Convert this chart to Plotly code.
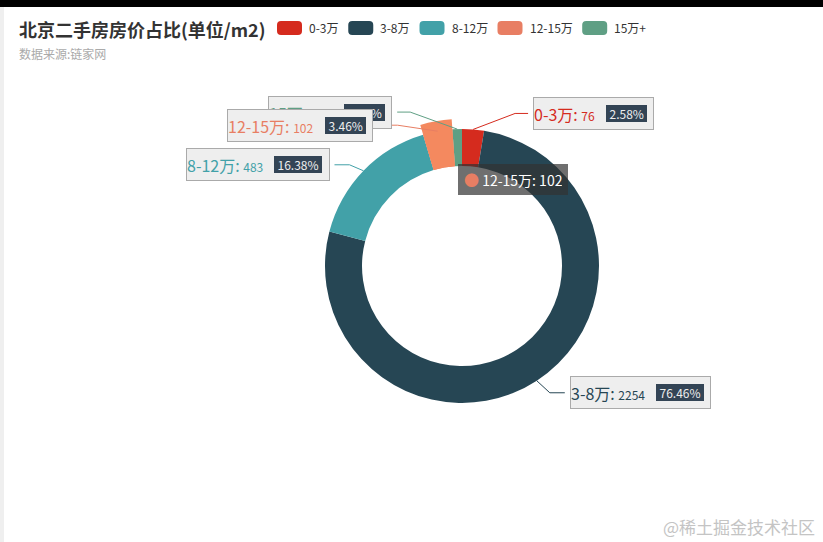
import math
import plotly.graph_objects as go

# ---------------- data ----------------
names = ['0-3万', '3-8万', '8-12万', '12-15万', '15万+']
values = [76, 2254, 483, 102, 33]
title_text = '北京二手房房价占比(单位/m2)'
subtitle_text = '数据来源:链家网'
hover_index = 3          # slice shown highlighted with a tooltip
watermark_text = '@稀土掘金技术社区'

# ---------------- styles / layout ----------------
colors = ['#d52b1e', '#264654', '#42a1a8', '#e87e63', '#5f9f84']
emph_color = '#f4895f'
W, H = 823, 542
CX, CY, R_OUT, R_IN, R_EMPH = 462, 266, 137, 100, 147
FONT = 'Noto Sans CJK SC, Microsoft YaHei, sans-serif'
# label line geometry: (elbow dx, elbow dy, second segment length)
label_offsets = [(42, -16, 13), (13, 12, 15), (-14, -6, 15), (-40, -6, 20), (-47, -17, 13)]


def px(x):
    return x / W


def py(y):
    return 1 - y / H


EM = {'-': 0.36, '.': 0.26, ':': 0.3, '%': 0.84, '+': 0.56, ' ': 0.28}


def tw(s, size):
    w = 0.0
    for ch in s:
        if ch.isdigit():
            w += 0.56
        elif ch in EM:
            w += EM[ch]
        elif ord(ch) > 0x2e80:
            w += 1.0
        else:
            w += 0.56
    return w * size


def rrect(x0, y0, x1, y1, r):
    return (f"M{px(x0 + r)},{py(y0)} L{px(x1 - r)},{py(y0)} Q{px(x1)},{py(y0)} {px(x1)},{py(y0 + r)} "
            f"L{px(x1)},{py(y1 - r)} Q{px(x1)},{py(y1)} {px(x1 - r)},{py(y1)} "
            f"L{px(x0 + r)},{py(y1)} Q{px(x0)},{py(y1)} {px(x0)},{py(y1 - r)} "
            f"L{px(x0)},{py(y0 + r)} Q{px(x0)},{py(y0)} {px(x0 + r)},{py(y0)} Z")


fig = go.Figure()

# main donut
fig.add_trace(go.Pie(
    labels=names, values=values, sort=False, direction='clockwise', rotation=0,
    hole=R_IN / R_OUT, marker=dict(colors=colors, line=dict(width=0)),
    textinfo='none', hoverinfo='skip', showlegend=False,
    domain=dict(x=[px(CX - R_OUT), px(CX + R_OUT)], y=[py(CY + R_OUT), py(CY - R_OUT)]),
))
# emphasised (hovered) slice, drawn with a larger outer radius
emph_colors = ['rgba(0,0,0,0)'] * len(values)
emph_colors[hover_index] = emph_color
fig.add_trace(go.Pie(
    labels=names, values=values, sort=False, direction='clockwise', rotation=0,
    hole=R_IN / R_EMPH, marker=dict(colors=emph_colors, line=dict(width=0)),
    textinfo='none', hoverinfo='skip', showlegend=False,
    domain=dict(x=[px(CX - R_EMPH), px(CX + R_EMPH)], y=[py(CY + R_EMPH), py(CY - R_EMPH)]),
))

shapes = []
annotations = []

# page frame (black top bar, grey left strip)
shapes.append(dict(type='rect', xref='paper', yref='paper', x0=0, x1=1, y0=py(7), y1=1,
                   fillcolor='#000000', line=dict(width=0), layer='below'))
shapes.append(dict(type='rect', xref='paper', yref='paper', x0=0, x1=px(4), y0=0, y1=py(7),
                   fillcolor='#efefef', line=dict(width=0), layer='below'))

# title & subtitle
annotations.append(dict(text=f'<b>{title_text}</b>', x=px(17), y=py(29), xref='paper', yref='paper',
                        xanchor='left', yanchor='middle', showarrow=False,
                        font=dict(size=18, color='#333333', family=FONT)))
annotations.append(dict(text=subtitle_text, x=px(17), y=py(53), xref='paper', yref='paper',
                        xanchor='left', yanchor='middle', showarrow=False,
                        font=dict(size=12, color='#aaaaaa', family=FONT)))

# legend
lx = 277
for name, col in zip(names, colors):
    shapes.append(dict(type='path', xref='paper', yref='paper', path=rrect(lx, 21, lx + 25, 35, 4),
                       fillcolor=col, line=dict(width=0)))
    annotations.append(dict(text=name, x=px(lx + 30), y=py(28), xref='paper', yref='paper',
                            xanchor='left', yanchor='middle', showarrow=False,
                            font=dict(size=12, color='#333333', family=FONT)))
    lx += 25 + 5 + tw(name, 12) + 11.5

# slice labels
total = sum(values)
cum = 0
label_items = []
for i, (name, v) in enumerate(zip(names, values)):
    theta = 2 * math.pi * (cum + v / 2) / total
    cum += v
    sx = CX + R_OUT * math.sin(theta)
    sy = CY - R_OUT * math.cos(theta)
    dx, dy, l2 = label_offsets[i]
    ex, ey = sx + dx, sy + dy
    right = math.sin(theta) > 0
    fx = ex + l2 if right else ex - l2
    shapes.append(dict(type='path', xref='paper', yref='paper',
                       path=f"M{px(sx)},{py(sy)} L{px(ex)},{py(ey)} L{px(fx)},{py(ey)}",
                       line=dict(color=colors[i], width=1)))
    pct = f"{v / total * 100:.2f}%"
    pct_w = tw(pct, 12) + 8
    box_w = tw(name + ':', 16) + 7 + tw(str(v), 12) + 8 + pct_w + 7
    bx0 = fx + 5 if right else fx - 5 - box_w
    label_items.append((i, name, v, pct, pct_w, box_w, bx0, ey))

# draw order: the highlighted slice label last so it sits on top
order = [it for it in label_items if it[0] != hover_index] + [it for it in label_items if it[0] == hover_index]
for i, name, v, pct, pct_w, box_w, bx0, cy_ in order:
    annotations.append(dict(
        text=f"<span style='font-size:16px'>{name}:</span> <span style='font-size:12px'>{v}</span>",
        x=px(bx0), y=py(cy_), xref='paper', yref='paper', xanchor='left', yanchor='middle',
        showarrow=False, width=box_w - 2, height=31, align='left', valign='middle',
        bgcolor='#eeeeee', bordercolor='#aaaaaa', borderwidth=1, borderpad=0,
        font=dict(size=16, color=colors[i], family=FONT)))
    annotations.append(dict(
        text=pct, x=px(bx0 + box_w - 7), y=py(cy_), xref='paper', yref='paper',
        xanchor='right', yanchor='middle', showarrow=False, width=pct_w - 2, height=15,
        align='center', valign='middle', bgcolor='#334455', bordercolor='#334455',
        borderwidth=1, borderpad=0, font=dict(size=12, color='#eeeeee', family=FONT)))

# tooltip for the highlighted slice
annotations.append(dict(
    text=f"<span style='color:{colors[hover_index]};font-size:15px'>●</span> {names[hover_index]}: {values[hover_index]}",
    x=px(458), y=py(179), xref='paper', yref='paper', xanchor='left', yanchor='middle',
    showarrow=False, width=98, height=19, align='left', valign='middle',
    bgcolor='rgba(50,50,50,0.7)', bordercolor='rgba(0,0,0,0)', borderwidth=0, borderpad=6,
    font=dict(size=14, color='#ffffff', family=FONT)))

# watermark
annotations.append(dict(text=watermark_text, x=px(817), y=py(526), xref='paper', yref='paper',
                        xanchor='right', yanchor='middle', showarrow=False,
                        font=dict(size=17, color='#c4c4c4', family=FONT)))

fig.update_layout(
    width=W, height=H, margin=dict(l=0, r=0, t=0, b=0),
    paper_bgcolor='#ffffff', plot_bgcolor='#ffffff',
    font=dict(family=FONT), showlegend=False,
    shapes=shapes, annotations=annotations,
)

fig.write_html("out.html", config={'displayModeBar': False},
               post_script="document.body.style.margin='0px';document.body.style.overflow='hidden';")
